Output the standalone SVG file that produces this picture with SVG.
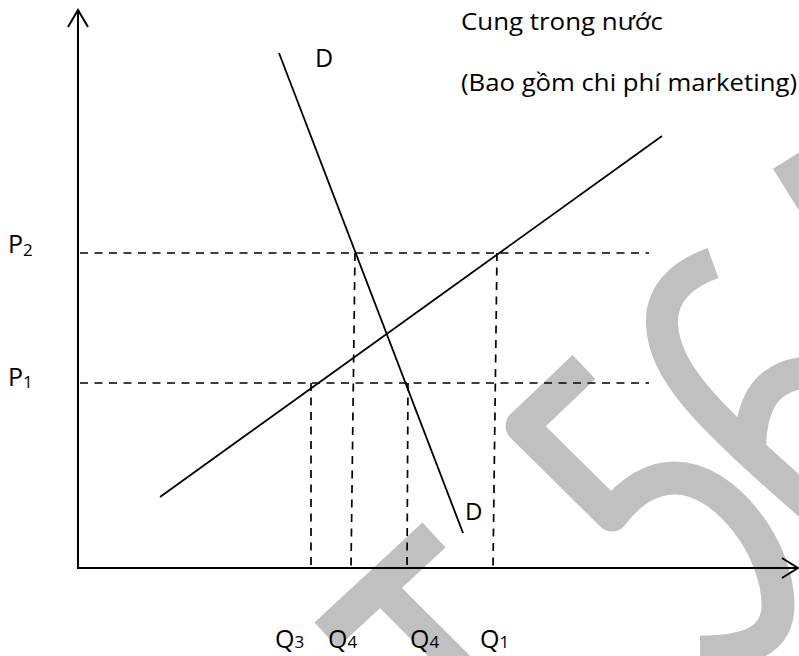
<svg xmlns="http://www.w3.org/2000/svg" width="799" height="656" viewBox="0 0 799 656">
<style>
.wm{fill:none;stroke:#c0c0c0;stroke-width:33;stroke-linejoin:round;stroke-linecap:butt}
.ax{fill:none;stroke:#000;stroke-width:2}
.ln{fill:none;stroke:#000;stroke-width:1.8}
.ds{fill:none;stroke:#000;stroke-width:1.7;stroke-dasharray:8,6.5}
.t{font-family:"Open Sans","Noto Sans","Liberation Sans",sans-serif;fill:#000}
</style>
<rect width="799" height="656" fill="#fff"/>
<g id="watermark">
<path class="wm" d="M326,635 L434,535" style="stroke-width:34"/>
<path class="wm" d="M379,586 L472,679" style="stroke-width:30"/>
<path class="wm" d="M584,367 L522,426 L612,515 C632,488 655,478 675,478 C725,478 778,548 778,605 C778,640 750,652 700,652"/>
<path class="wm" d="M713,263 C688,272 660,290 662,325 C665,370 700,410 810,505" style="stroke-width:32"/>
<path class="wm" d="M750,445 C752,400 768,375 810,372" style="stroke-width:32"/>
<path class="wm" d="M787,160 L815,205"/>
</g>
<g id="connectors">
<path class="ds" d="M80,253 H649"/>
<path class="ds" d="M80,383 H649"/>
<path class="ds" d="M311,383 L311,568"/>
<path class="ds" d="M355,253 L351,568"/>
<path class="ds" d="M408,383 L407,568"/>
<path class="ds" d="M497,253 L493,568"/>
</g>
<g id="axes">
<path class="ax" d="M78,568 V10 M68,27 L78,10 L88,27"/>
<path class="ax" d="M77,568 H797 M782,558 L798,568 L782,578"/>
</g>
<g id="demand">
<path class="ln" d="M279,53 L463,533"/>
<text class="t" x="315" y="67" font-size="25">D</text>
<text class="t" x="465" y="520" font-size="24">D</text>
</g>
<g id="supply">
<path class="ln" d="M160,497 L662,136"/>
<text class="t" x="461" y="30" font-size="24" textLength="202" lengthAdjust="spacingAndGlyphs">Cung trong nước</text>
<text class="t" x="461" y="91" font-size="24" textLength="336" lengthAdjust="spacingAndGlyphs">(Bao gồm chi phí marketing)</text>
</g>
<g id="labels" class="t" font-size="25">
<text x="8" y="253">P<tspan font-size="17" dy="3">2</tspan></text>
<text x="8" y="386">P<tspan font-size="17" dy="2">1</tspan></text>
<text x="275" y="648">Q<tspan font-size="17">3</tspan></text>
<text x="328" y="648">Q<tspan font-size="17">4</tspan></text>
<text x="410" y="648">Q<tspan font-size="17">4</tspan></text>
<text x="480" y="648">Q<tspan font-size="17">1</tspan></text>
</g>
</svg>
